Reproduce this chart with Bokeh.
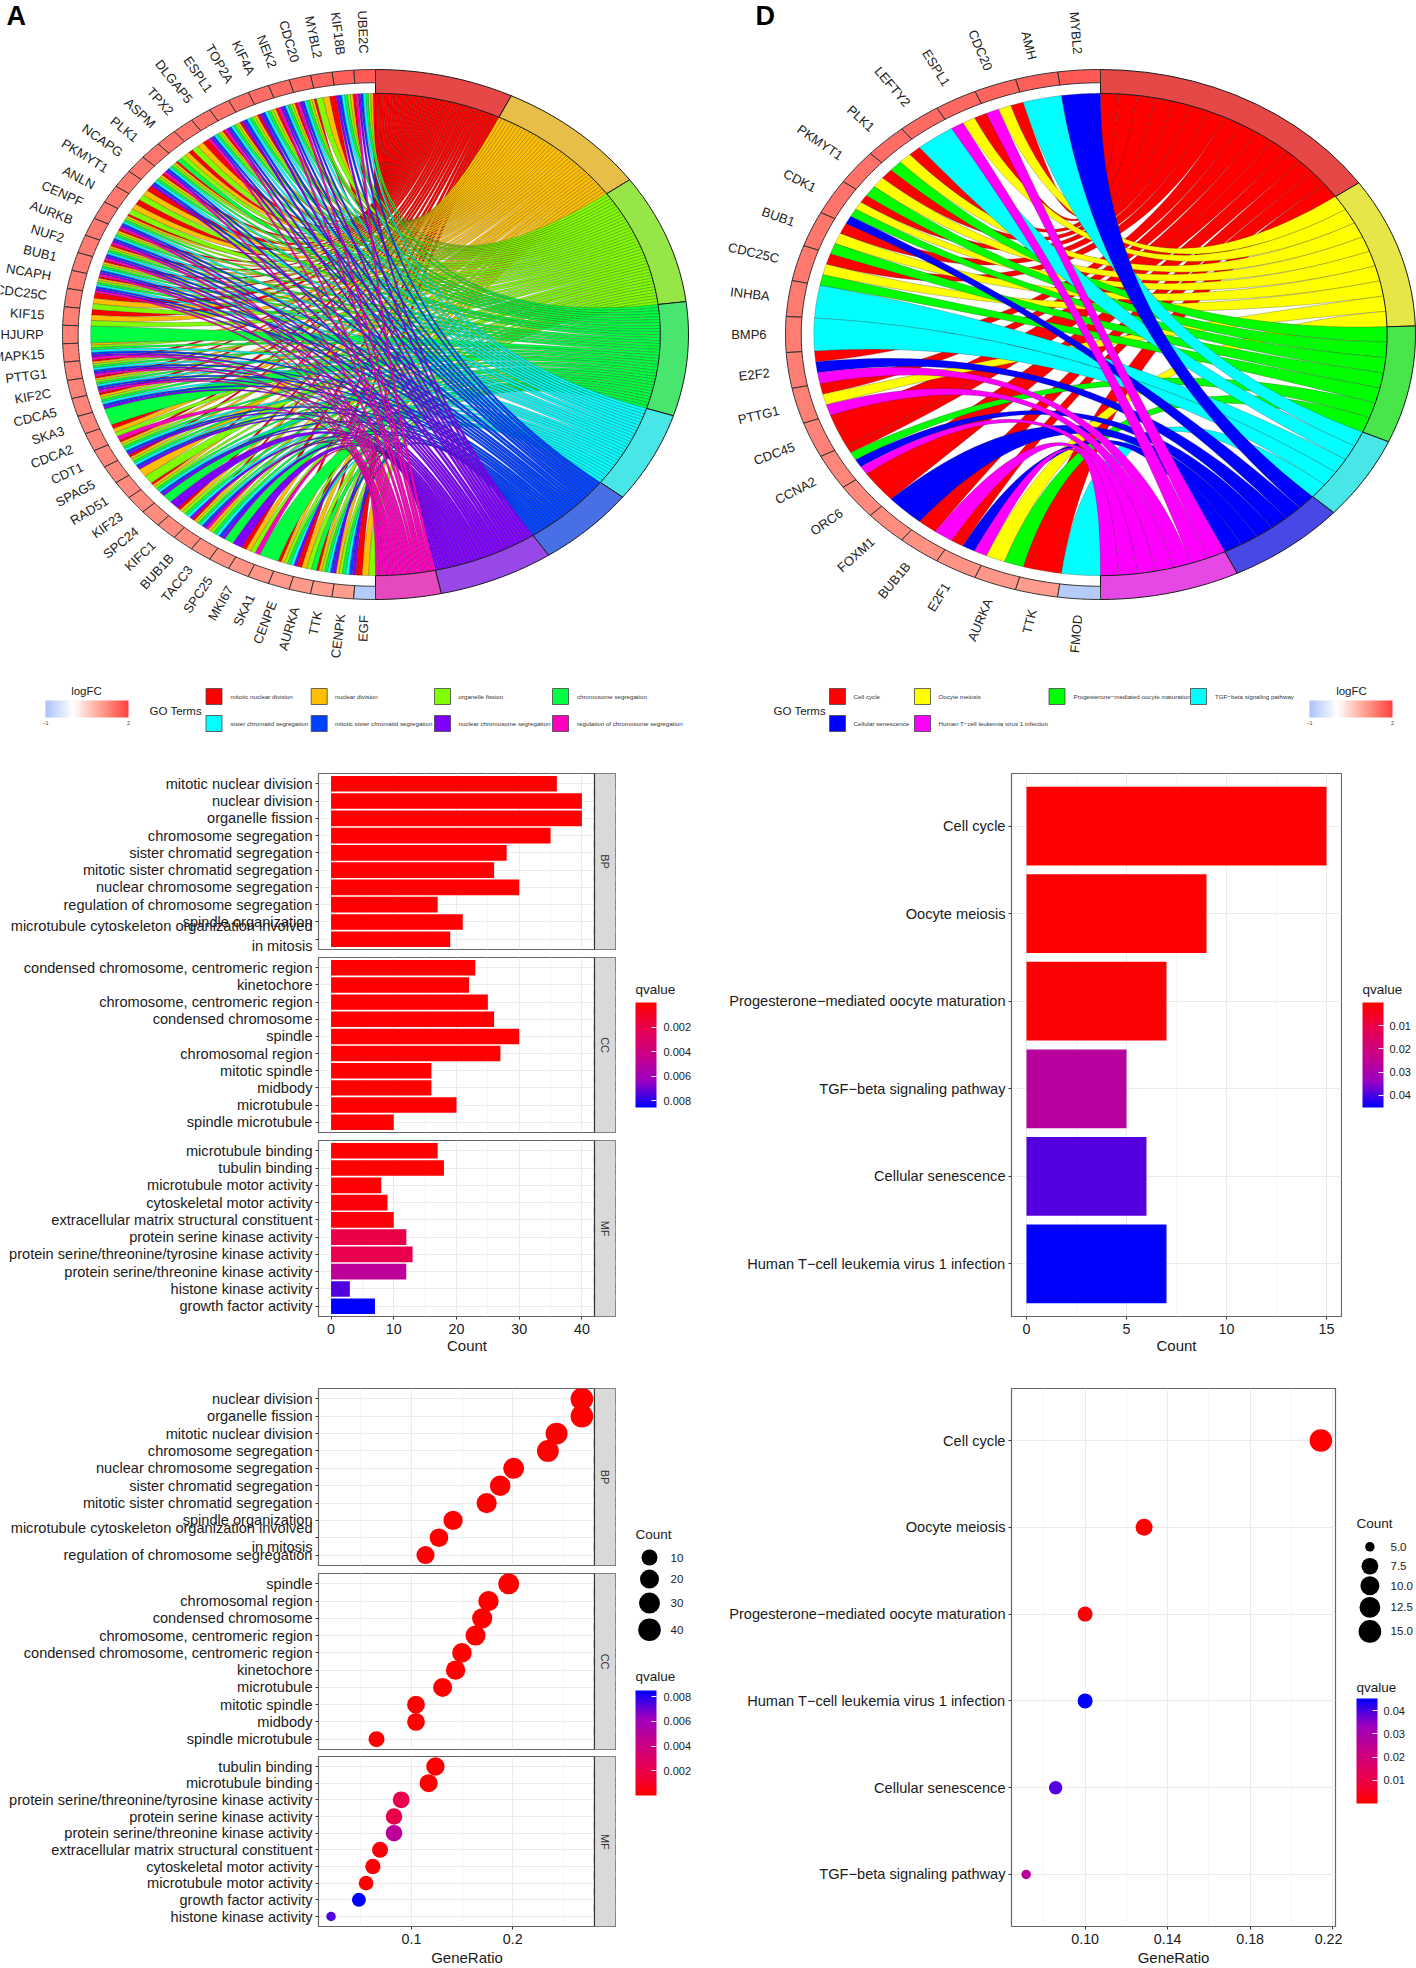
import math
import numpy as np
from bokeh.core.properties import value
from bokeh.embed import file_html
from bokeh.layouts import column, row
from bokeh.models import (ColorBar, ColumnDataSource, FactorRange, FixedTicker, Label,
                          LinearColorMapper, NumeralTickFormatter, Range1d)
from bokeh.plotting import figure
from bokeh.resources import INLINE
from bokeh.transform import transform

FONT = "Liberation Sans"

# panel A: genes, logFC and the GO terms each gene belongs to (one letter per term)
a_genes = ["UBE2C", "KIF18B", "MYBL2", "CDC20", "NEK2", "KIF4A", "TOP2A", "ESPL1", "DLGAP5", "TPX2", "ASPM", "PLK1",
           "NCAPG", "PKMYT1", "ANLN", "CENPF", "AURKB", "NUF2", "BUB1", "NCAPH", "CDC25C", "KIF15", "HJURP", "MAPK15",
           "PTTG1", "KIF2C", "CDCA5", "SKA3", "CDCA2", "CDT1", "SPAG5", "RAD51", "KIF23", "SPC24", "KIFC1", "BUB1B",
           "TACC3", "SPC25", "MKI67", "SKA1", "CENPE", "AURKA", "TTK", "CENPK", "EGF"]
a_lfc = [1.72, 1.68, 1.62, 1.58, 1.55, 1.52, 1.5, 1.48, 1.46, 1.45, 1.44, 1.43, 1.42, 1.41, 1.4, 1.39, 1.38, 1.37,
         1.36, 1.35, 1.34, 1.33, 1.32, 1.31, 1.3, 1.29, 1.28, 1.27, 1.26, 1.25, 1.24, 1.23, 1.22, 1.21, 1.2, 1.18,
         1.16, 1.14, 1.12, 1.1, 1.08, 1.06, 1.04, 1.02, -0.85]
a_members = ["rolgcbpm", "rolgcbp", "rol", "rolgcbpm", "rolgcbpm", "rolgcbp", "rolgcbp", "rolgcbpm", "rolgcbpm", "rol",
             "rolg", "rolgcbpm", "rolgcbp", "rol", "rol", "rolgcbpm", "rolgcbpm", "rolgcbpm", "rolgcbpm", "rolgcbpm",
             "rol", "rol", "g", "olgcbpm", "rolgcbpm", "rolgcbpm", "rolgcbp", "g", "rolm", "rolgcbp", "rolgcbp", "ol",
             "rolgcbp", "gp", "rolgcp", "rolgcbpm", "olgcbp", "gp", "rolm", "g", "rolgcp", "rolg", "rolgcbp", "olgcbp",
             "rol"]
a_letters = "rolgcbpm"
a_terms = ["mitotic nuclear division", "nuclear division", "organelle fission", "chromosome segregation",
           "sister chromatid segregation", "mitotic sister chromatid segregation", "nuclear chromosome segregation",
           "regulation of chromosome segregation"]
a_colors = ["#FF0000", "#FFBF00", "#80FF00", "#00FF40", "#00FFFF", "#0040FF", "#8000FF", "#FF00BF"]

# panel D
d_genes = ["MYBL2", "AMH", "CDC20", "ESPL1", "LEFTY2", "PLK1", "PKMYT1", "CDK1", "BUB1", "CDC25C", "INHBA", "BMP6",
           "E2F2", "PTTG1", "CDC45", "CCNA2", "ORC6", "FOXM1", "BUB1B", "E2F1", "AURKA", "TTK", "FMOD"]
d_lfc = [1.75, 1.68, 1.62, 1.58, 1.55, 1.52, 1.49, 1.46, 1.43, 1.4, 1.38, 1.36, 1.34, 1.32, 1.3, 1.27, 1.24, 1.2,
         1.16, 1.12, 1.08, 1.04, -0.85]
d_members = ["b", "c", "rym", "rym", "c", "ryg", "ryg", "rygb", "ryg", "ryg", "c", "c", "rbm", "rym", "r", "rgbm", "r",
             "b", "rm", "rbm", "yg", "r", "c"]
d_letters = "rygcbm"
d_terms = ["Cell cycle", "Oocyte meiosis", "Progesterone\u2212mediated oocyte maturation", "TGF\u2212beta signaling pathway",
           "Cellular senescence", "Human T\u2212cell leukemia virus 1 infection"]
d_colors = ["#FF0000", "#FFFF00", "#00FF00", "#00FFFF", "#0000FF", "#FF00FF"]

# panel B
bp_rows = ["mitotic nuclear division", "nuclear division", "organelle fission", "chromosome segregation",
           "sister chromatid segregation", "mitotic sister chromatid segregation", "nuclear chromosome segregation",
           "regulation of chromosome segregation", "spindle organization",
           "microtubule cytoskeleton organization involved\nin mitosis"]
bp_count = [36, 40, 40, 35, 28, 26, 30, 17, 21, 19]
bp_q = [0.00001, 0.00001, 0.00001, 0.00001, 0.00001, 0.00001, 0.00001, 0.00001, 0.00001, 0.00001]
cc_rows = ["condensed chromosome, centromeric region", "kinetochore", "chromosome, centromeric region",
           "condensed chromosome", "spindle", "chromosomal region", "mitotic spindle", "midbody", "microtubule",
           "spindle microtubule"]
cc_count = [23, 22, 25, 26, 30, 27, 16, 16, 20, 10]
cc_q = [0.00001, 0.00001, 0.00001, 0.00001, 0.00001, 0.00001, 0.00001, 0.00001, 0.00002, 0.00005]
mf_rows = ["microtubule binding", "tubulin binding", "microtubule motor activity", "cytoskeletal motor activity",
           "extracellular matrix structural constituent", "protein serine kinase activity",
           "protein serine/threonine/tyrosine kinase activity", "protein serine/threonine kinase activity",
           "histone kinase activity", "growth factor activity"]
mf_count = [17, 18, 8, 9, 10, 12, 13, 12, 3, 7]
mf_q = [0.00001, 0.00001, 0.0001, 0.0002, 0.0003, 0.0019, 0.0021, 0.0048, 0.0074, 0.0085]

# panel C
bp2_rows = ["nuclear division", "organelle fission", "mitotic nuclear division", "chromosome segregation",
            "nuclear chromosome segregation", "sister chromatid segregation", "mitotic sister chromatid segregation",
            "spindle organization", "microtubule cytoskeleton organization involved\nin mitosis",
            "regulation of chromosome segregation"]
bp2_ratio = [0.2683, 0.2683, 0.2433, 0.2347, 0.2009, 0.1876, 0.1742, 0.141, 0.1271, 0.1138]
bp2_count = [40, 40, 36, 35, 30, 28, 26, 21, 19, 17]
bp2_q = [0.00001, 0.00001, 0.00001, 0.00001, 0.00001, 0.00001, 0.00001, 0.00001, 0.00001, 0.00001]
cc2_rows = ["spindle", "chromosomal region", "condensed chromosome", "chromosome, centromeric region",
            "condensed chromosome, centromeric region", "kinetochore", "microtubule", "mitotic spindle", "midbody",
            "spindle microtubule"]
cc2_ratio = [0.196, 0.176, 0.1698, 0.1632, 0.1498, 0.1435, 0.1307, 0.1044, 0.1044, 0.0654]
cc2_count = [30, 27, 26, 25, 23, 22, 20, 16, 16, 10]
cc2_q = [0.00001, 0.00001, 0.00001, 0.00001, 0.00001, 0.00001, 0.00002, 0.00001, 0.00001, 0.00005]
mf2_rows = ["tubulin binding", "microtubule binding", "protein serine/threonine/tyrosine kinase activity",
            "protein serine kinase activity", "protein serine/threonine kinase activity",
            "extracellular matrix structural constituent", "cytoskeletal motor activity", "microtubule motor activity",
            "growth factor activity", "histone kinase activity"]
mf2_ratio = [0.1236, 0.1169, 0.0898, 0.0827, 0.0827, 0.0689, 0.0618, 0.0551, 0.048, 0.0205]
mf2_count = [18, 17, 13, 12, 12, 10, 9, 8, 7, 3]
mf2_q = [0.00001, 0.00001, 0.0021, 0.0019, 0.0048, 0.0003, 0.0002, 0.0001, 0.0085, 0.0074]

# panels E and F
e_rows = ["Cell cycle", "Oocyte meiosis", "Progesterone\u2212mediated oocyte maturation", "TGF\u2212beta signaling pathway",
          "Cellular senescence", "Human T\u2212cell leukemia virus 1 infection"]
e_count = [15, 9, 7, 5, 6, 7]
e_q = [0.0001, 0.0004, 0.001, 0.027, 0.039, 0.0452]
f_rows = ["Cell cycle", "Oocyte meiosis", "Progesterone\u2212mediated oocyte maturation",
          "Human T\u2212cell leukemia virus 1 infection", "Cellular senescence", "TGF\u2212beta signaling pathway"]
f_ratio = [0.2143, 0.1286, 0.1, 0.1, 0.0857, 0.0714]
f_count = [15, 9, 7, 7, 6, 5]
f_q = [0.0001, 0.0004, 0.001, 0.0452, 0.039, 0.027]

# point diameter in pixels against count
c_size_counts = [3, 7, 10, 20, 30, 40]
c_size_px = [9.5, 14, 16, 19, 21, 22.6]
f_size_counts = [5, 6, 7, 7.5, 9, 10, 12.5, 15]
f_size_px = [9.5, 13.5, 15, 16.7, 17, 19, 20.8, 22.6]


def ramp(stops, n=256):
    rgb = np.array([[int(s[i:i + 2], 16) for i in (1, 3, 5)] for s in stops])
    pos = np.linspace(0, 1, len(stops))
    t = np.linspace(0, 1, n)
    return ["#%02X%02X%02X" % tuple(int(round(np.interp(v, pos, rgb[:, c]))) for c in range(3)) for v in t]


Q_PALETTE = ramp(["#FF0000", "#E8004F", "#C90088", "#9B00C2", "#0000FF"])
LFC_PALETTE = ramp(["#A9C4FA", "#FFFFFF", "#FFA090", "#FF4040"], 255)


def note(p, text, x, y, size="14px", style="normal", angle=0, align="left", color="#1a1a1a"):
    p.add_layout(Label(x=x, y=y, x_units="canvas", y_units="canvas", text=text, text_font=FONT, text_font_size=size,
                       text_font_style=style, angle=angle, text_align=align, text_baseline="middle",
                       text_color=color))


def polar(r, phi):
    phi = np.radians(phi)
    return r * np.sin(phi), r * np.cos(phi)


def arc(r, a, b, n=14):
    return polar(r, np.linspace(a, b, n))


def curve(a, b, n=40):
    # quadratic bezier between two points of the inner circle, pulled through the centre
    s = np.linspace(0, 1, n)
    ax, ay = polar(0.91, a)
    bx, by = polar(0.91, b)
    return (1 - s) ** 2 * ax + s ** 2 * bx, (1 - s) ** 2 * ay + s ** 2 * by


def ring_cell(r0, r1, a, b):
    x0, y0 = arc(r1, a, b)
    x1, y1 = arc(r0, b, a)
    return list(x0) + list(x1), list(y0) + list(y1)


def chord(width, height, cx, cy, rx, ry, genes, lfc, members, letters, colors):
    p = figure(width=width, height=height, x_range=Range1d(-cx / rx, (width - cx) / rx),
               y_range=Range1d((cy - height) / ry, cy / ry), x_axis_location=None, y_axis_location=None,
               min_border=0, outline_line_color=None, toolbar_location=None, output_backend="svg")
    p.grid.visible = False
    step = 180 / len(genes)
    total = sum(len(m) for m in members)
    unit = 180 / total

    xs, ys, cols = [], [], []
    term_x, term_y, term_cols = [], [], []
    pos = 0
    for k, letter in enumerate(letters):
        start = pos
        for i, m in enumerate(members):
            if letter not in m:
                continue
            j = m.index(letter)
            g1 = -(i + j / len(m)) * step
            g2 = -(i + (j + 1) / len(m)) * step
            t1, t2 = pos * unit, (pos + 1) * unit
            pos += 1
            parts = [arc(0.91, t1, t2), curve(t2, g2), arc(0.91, g2, g1), curve(g1, t1)]
            xs.append(np.concatenate([q[0] for q in parts]).tolist())
            ys.append(np.concatenate([q[1] for q in parts]).tolist())
            cols.append(colors[k])
        x, y = ring_cell(0.91, 1.0, start * unit, pos * unit)
        term_x.append(x)
        term_y.append(y)
        c = [int(colors[k][q:q + 2], 16) for q in (1, 3, 5)]
        term_cols.append("#%02X%02X%02X" % tuple(int(0.62 * v + 72) for v in c))

    p.patches(xs, ys, fill_color=cols, line_color="#222222", line_width=0.35, line_alpha=0.75)
    p.patches(term_x, term_y, fill_color=term_cols, line_color="#1a1a1a", line_width=1)

    mapper = LinearColorMapper(palette=LFC_PALETTE, low=-1, high=2)
    cells = [ring_cell(0.95, 1.0, -i * step, -(i + 1) * step) for i in range(len(genes))]
    src = ColumnDataSource(dict(xs=[c[0] for c in cells], ys=[c[1] for c in cells], lfc=lfc))
    p.patches("xs", "ys", source=src, fill_color=transform("lfc", mapper), line_color="#333333", line_width=1)

    mid = np.radians((np.arange(len(genes)) + 0.5) * step)
    angles = np.arctan2(-np.cos(mid) * ry, np.sin(mid) * rx)
    p.text(-1.06 * np.sin(mid), 1.06 * np.cos(mid), text=genes, angle=angles, text_align="right",
           text_baseline="middle", text_font=value(FONT), text_font_size="13px", text_color="#222222")
    return p, mapper


def chord_legend(p, cx, cy, rx, ry, mapper, terms, colors, swatch_x, text_x, swatch_y, go_x, fc_x, bar_x):
    def dx(v):
        return [(q - cx) / rx for q in v]

    def dy(v):
        return [(cy - q) / ry for q in v]

    p.scatter(dx(swatch_x), dy(swatch_y), marker="square", size=16, fill_color=colors, line_color="#444444",
              line_width=0.8)
    p.text(dx(text_x), dy(swatch_y), text=terms, text_baseline="middle", text_font=value(FONT),
           text_font_size="6.2px", text_color="#333333")
    note(p, "GO Terms", go_x, 710, "11.5px")
    note(p, "logFC", fc_x, 690, "11.5px", align="center")
    cb = ColorBar(color_mapper=mapper, orientation="horizontal", width=83, height=17, location=(bar_x, 23), padding=0,
                  margin=0, ticker=FixedTicker(ticks=[-1, 2]), major_tick_line_color=None, minor_tick_line_color=None,
                  bar_line_color=None, major_label_text_font=FONT, major_label_text_font_size="5.5px",
                  label_standoff=3, background_fill_color=None, border_line_color=None)
    p.add_layout(cb)


def style_y(p):
    ax = p.yaxis[0]
    ax.axis_line_color = None
    ax.major_tick_in = 0
    ax.major_tick_out = 3
    ax.major_tick_line_color = "#333333"
    ax.major_label_standoff = 3
    ax.major_label_text_font = FONT
    ax.major_label_text_font_size = "14.6px"
    ax.major_label_text_color = "#1a1a1a"


def style_x(p, ticks, minor, show, label=None, fmt=None, standoff=2):
    ticker = FixedTicker(ticks=ticks, minor_ticks=minor)
    p.xaxis.ticker = ticker
    p.xgrid.ticker = ticker
    p.xgrid.grid_line_color = "#EBEBEB"
    p.xgrid.minor_grid_line_color = "#F4F4F4"
    p.ygrid.grid_line_color = "#EBEBEB"
    ax = p.xaxis[0]
    ax.visible = show
    ax.axis_line_color = None
    ax.major_tick_in = 0
    ax.major_tick_out = 3
    ax.minor_tick_line_color = None
    ax.major_tick_line_color = "#333333"
    ax.major_label_standoff = 3
    ax.major_label_text_font = FONT
    ax.major_label_text_font_size = "14.3px"
    ax.major_label_text_color = "#1a1a1a"
    if fmt:
        ax.formatter = NumeralTickFormatter(format=fmt)
    if label:
        ax.axis_label = label
        ax.axis_label_text_font = FONT
        ax.axis_label_text_font_style = "normal"
        ax.axis_label_text_font_size = "15px"
        ax.axis_label_text_color = "#1a1a1a"
        ax.axis_label_standoff = standoff


def panel(width, height, rows, xr, left, right, top, bottom):
    pad = 0.2 / len(rows)
    p = figure(width=width, height=height, x_range=Range1d(*xr), y_range=FactorRange(factors=rows[::-1], range_padding=pad),
               min_border_left=left, min_border_right=right, min_border_top=top, min_border_bottom=bottom,
               toolbar_location=None, output_backend="svg", outline_line_color="#666666", outline_line_width=1.2)
    style_y(p)
    return p


def strip(p, rows, edge, end, text):
    thin = (end - edge) / 21 * 0.6
    p.hbar(y=rows, left=edge, right=end, height=1.4, fill_color="#D9D9D9", line_color=None)
    p.hbar(y=rows, left=edge - thin, right=edge + thin, height=1.4, fill_color="#333333", line_color=None)
    p.text([(edge + end) / 2], [rows[4]], text=[text], y_offset=8.7, angle=-math.pi / 2, text_align="center",
           text_baseline="middle", text_font=value(FONT), text_font_size="11px", text_color="#333333")


def side(width, height):
    p = figure(width=width, height=height, x_range=Range1d(0, width), y_range=Range1d(height, 0),
               x_axis_location=None, y_axis_location=None, min_border=0, outline_line_color=None,
               toolbar_location=None, output_backend="svg")
    p.grid.visible = False
    return p


def letter_over(text, x, top, column_height):
    # labels outside a facet's frame do not show, so the letter is a small figure pulled up over the empty corner
    p = side(30, 30)
    p.margin = (top - column_height, 0, column_height - top - 30, 0)
    note(p, text, x, 15, "27px", "bold", color="black")
    return p


def qbar(p, qmax, ticks, labels, x, y, reverse, standoff=7):
    if reverse:
        mapper = LinearColorMapper(palette=Q_PALETTE[::-1], low=0, high=qmax)
        where = [qmax - t for t in ticks][::-1]
        labels = labels[::-1]
    else:
        mapper = LinearColorMapper(palette=Q_PALETTE, low=0, high=qmax)
        where = list(ticks)
    cb = ColorBar(color_mapper=mapper, width=21, height=105, location=(x, y), padding=0, margin=0,
                  ticker=FixedTicker(ticks=where), major_label_overrides=dict(zip(where, labels)),
                  major_tick_in=5, major_tick_out=0, major_tick_line_color="white", minor_tick_line_color=None,
                  bar_line_color=None, major_label_text_font=FONT, major_label_text_font_size="11px",
                  major_label_text_color="#1a1a1a", label_standoff=standoff, background_fill_color=None,
                  border_line_color=None)
    p.add_layout(cb)


def size_legend(p, counts, sizes, labels, x, ys, label_x):
    p.scatter([x] * len(counts), ys, size=sizes, fill_color="black", line_color=None)
    p.text([label_x] * len(counts), ys, text=labels, text_baseline="middle", text_font=value(FONT),
           text_font_size="11.5px", text_color="#1a1a1a")


# panels A and D
pA, mapA = chord(708, 750, 375, 334, 313, 265, a_genes, a_lfc, a_members, a_letters, a_colors)
chord_legend(pA, 375, 334, 313, 265, mapA, a_terms, a_colors,
             [213.5, 318.7, 442, 560, 213.5, 318.7, 442, 560], [230, 334.5, 458, 576.5, 230, 334.5, 458, 576.5],
             [696, 696, 696, 696, 723, 723, 723, 723], 149, 86, 45)
note(pA, "A", 6, 15, "27px", "bold", color="black")

pD, mapD = chord(708, 750, 392, 334, 315, 265, d_genes, d_lfc, d_members, d_letters, d_colors)
chord_legend(pD, 392, 334, 315, 265, mapD, d_terms, d_colors,
             [129, 214, 348.5, 490, 129, 214], [145, 230, 365, 506.5, 145, 230],
             [696, 696, 696, 696, 723, 723], 65, 643, 601)
note(pD, "D", 47, 15, "27px", "bold", color="black")

# panel B: three facets sharing the count axis, the x range runs on under the grey strip
B_X = (-2, 45.35)
B_TICKS = [0, 10, 20, 30, 40]
B_MINOR = [5, 15, 25, 35]
q_map_b = LinearColorMapper(palette=Q_PALETTE, low=0, high=0.0085)
b_figs = []
for rows, count, q, h, top, bottom, name in [(bp_rows, bp_count, bp_q, 203, 23, 4, "BP"),
                                             (cc_rows, cc_count, cc_q, 183, 4, 4, "CC"),
                                             (mf_rows, mf_count, mf_q, 234, 4, 54, "MF")]:
    p = panel(616, h, rows, B_X, 318, 1, top, bottom)
    src = ColumnDataSource(dict(y=rows, right=count, q=q))
    p.hbar(y="y", left=0, right="right", height=0.9, source=src, fill_color=transform("q", q_map_b), line_color=None)
    style_x(p, B_TICKS, B_MINOR, name == "MF", "Count" if name == "MF" else None, standoff=0)
    strip(p, rows, 42, 45.35, name)
    b_figs.append(p)
letter_b = letter_over("B", 8, 23, 620)

side_b = side(92, 620)
qbar(side_b, 0.00855, [0.002, 0.004, 0.006, 0.008], ["0.002", "0.004", "0.006", "0.008"], 19, 263, True)
note(side_b, "qvalue", 19, 239, "13.5px")

# panel C
C_X = (0.0081, 0.3015)
q_map_c = LinearColorMapper(palette=Q_PALETTE, low=0, high=0.0085)
c_figs = []
for rows, ratio, count, q, h, top, bottom, name in [(bp2_rows, bp2_ratio, bp2_count, bp2_q, 199, 18, 4, "BP"),
                                                    (cc2_rows, cc2_ratio, cc2_count, cc2_q, 184, 4, 4, "CC"),
                                                    (mf2_rows, mf2_ratio, mf2_count, mf2_q, 215, 3, 35, "MF")]:
    p = panel(616, h, rows, C_X, 318, 1, top, bottom)
    src = ColumnDataSource(dict(y=rows, x=ratio, q=q, s=np.interp(count, c_size_counts, c_size_px)))
    p.scatter(x="x", y="y", size="s", source=src, fill_color=transform("q", q_map_c), line_color=None)
    style_x(p, [0.1, 0.2], [0.05, 0.15, 0.25], name == "MF", "GeneRatio" if name == "MF" else None)
    strip(p, rows, 0.2807, 0.3015, name)
    c_figs.append(p)
letter_c = letter_over("C", 2, 14, 598)

side_c = side(92, 598)
c_legend = [10, 20, 30, 40]
note(side_c, "Count", 19, 164, "13.5px")
size_legend(side_c, c_legend, list(np.interp(c_legend, c_size_counts, c_size_px)), ["10", "20", "30", "40"], 33,
            [187, 208.6, 232.6, 259.3], 54)
note(side_c, "qvalue", 19, 306, "13.5px")
qbar(side_c, 0.0085, [0.002, 0.004, 0.006, 0.008], ["0.002", "0.004", "0.006", "0.008"], 19, 173, False)

# panel E
pE = panel(634, 620, e_rows, (-0.75, 15.75), 303, 1, 23, 54)
q_map_e = LinearColorMapper(palette=Q_PALETTE, low=0, high=0.0452)
pE.hbar(y="y", left=0, right="right", height=0.9, source=ColumnDataSource(dict(y=e_rows, right=e_count, q=e_q)),
        fill_color=transform("q", q_map_e), line_color=None)
style_x(pE, [0, 5, 10, 15], [2.5, 7.5, 12.5], True, "Count", standoff=0)
note(pE, "E", 47, 37, "27px", "bold", color="black")

side_e = side(74, 620)
note(side_e, "qvalue", 20, 239, "13.5px")
qbar(side_e, 0.0452, [0.01, 0.02, 0.03, 0.04], ["0.01", "0.02", "0.03", "0.04"], 20, 209, True, 6)

# panel F
pF = panel(634, 598, f_rows, (0.0643, 0.2214), 303, 7, 18, 35)
q_map_f = LinearColorMapper(palette=Q_PALETTE, low=0, high=0.0452)
pF.scatter(x="x", y="y", size="s", fill_color=transform("q", q_map_f), line_color=None,
           source=ColumnDataSource(dict(y=f_rows, x=f_ratio, q=f_q, s=np.interp(f_count, f_size_counts, f_size_px))))
style_x(pF, [0.10, 0.14, 0.18, 0.22], [0.08, 0.12, 0.16, 0.20], True, "GeneRatio", "0.00")
note(pF, "F", 47, 28, "27px", "bold", color="black")

side_f = side(74, 598)
f_legend = [5.0, 7.5, 10.0, 12.5, 15.0]
note(side_f, "Count", 14, 152.6, "13.5px")
size_legend(side_f, f_legend, list(np.interp(f_legend, f_size_counts, f_size_px)), ["5.0", "7.5", "10.0", "12.5", "15.0"],
            27.4, [176, 197.6, 219.3, 243.3, 270], 48)
note(side_f, "qvalue", 14, 317, "13.5px")
qbar(side_f, 0.0452, [0.01, 0.02, 0.03, 0.04], ["0.01", "0.02", "0.03", "0.04"], 14, 123, False, 6)

left = column(pA, row(column(*b_figs, letter_b), side_b), row(column(*c_figs, letter_c), side_c))
right = column(pD, row(pE, side_e), row(pF, side_f))
page = row(left, right)

open("out.html", "w").write(file_html(page, INLINE))
